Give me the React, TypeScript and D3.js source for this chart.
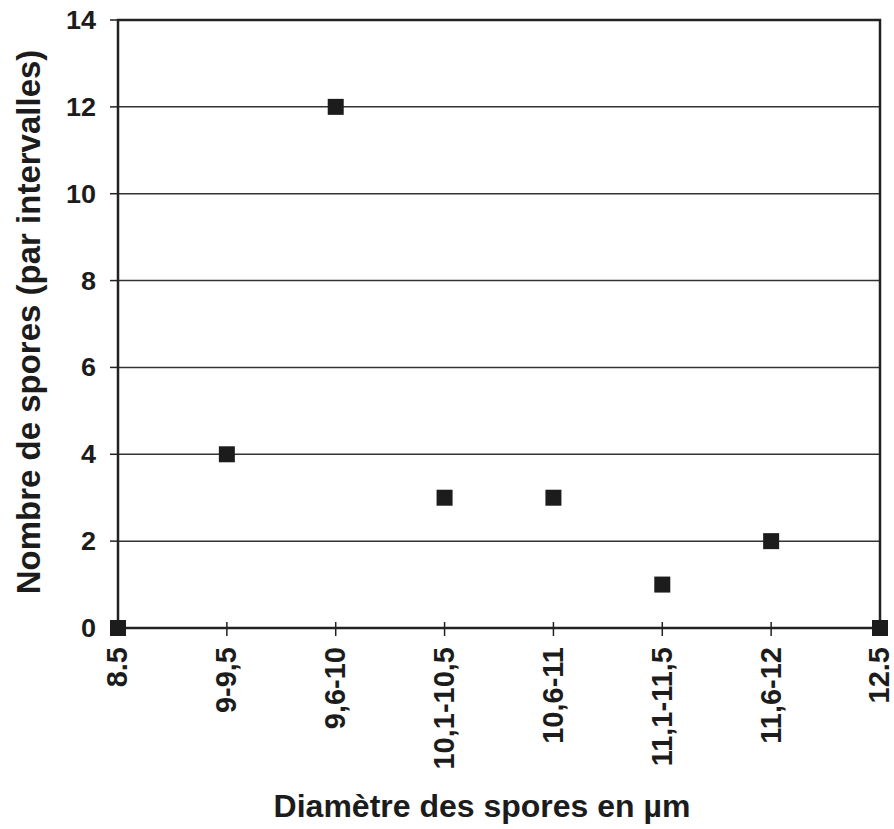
import React from "react";
import * as d3 from "d3";

const categories = ["8.5", "9-9,5", "9,6-10", "10,1-10,5", "10,6-11", "11,1-11,5", "11,6-12", "12.5"];
const counts = [0, 4, 12, 3, 3, 1, 2, 0];
const yTicks = [0, 2, 4, 6, 8, 10, 12, 14];
const xTitle = "Diamètre des spores en µm";
const yTitle = "Nombre de spores (par intervalles)";

const W = 894, H = 829;
const L = 118, R = 880, T = 20, B = 628;
const FONT = "'Liberation Sans', Arial, sans-serif";
const INK = "#1c1c1c";

export default function App() {
  const x = d3.scalePoint<string>().domain(categories).range([L, R]).padding(0);
  const y = d3.scaleLinear().domain([0, 14]).range([B, T]);
  const ms = 16;
  return (
    <svg width={W} height={H} style={{ position: "absolute", left: 0, top: 0, background: "#fff" }}>
      {yTicks.map((t) => (
        <g key={t}>
          {t > 0 && t < 14 && (
            <line x1={L} x2={R} y1={y(t)} y2={y(t)} stroke="#333" strokeWidth={1.5} />
          )}
          <line x1={L - 8} x2={L} y1={y(t)} y2={y(t)} stroke="#222" strokeWidth={1.5} />
          <text
            transform={`translate(96,${y(t)}) scale(1.08,1)`}
            dy="0.36em"
            textAnchor="end"
            fontFamily={FONT}
            fontWeight="bold"
            fontSize={25}
            fill={INK}
          >
            {t}
          </text>
        </g>
      ))}
      {categories.map((c) => (
        <g key={c}>
          <line x1={x(c)} x2={x(c)} y1={B - 6} y2={B + 8} stroke="#222" strokeWidth={1.5} />
          <text
            transform={`translate(${x(c)! - 1},${B + 19}) rotate(-90)`}
            dy="0.36em"
            textAnchor="end"
            fontFamily={FONT}
            fontWeight="bold"
            fontSize={29}
            fill={INK}
          >
            {c}
          </text>
        </g>
      ))}
      <rect x={L} y={T} width={R - L} height={B - T} fill="none" stroke="#222" strokeWidth={2.5} />
      {categories.map((c, i) => (
        <rect key={c} x={x(c)! - ms / 2} y={y(counts[i]) - ms / 2} width={ms} height={ms} fill={INK} />
      ))}
      <text x={482} y={817} textAnchor="middle" fontFamily={FONT} fontWeight="bold" fontSize={32} fill={INK}>
        {xTitle}
      </text>
      <text transform={`translate(40,322) rotate(-90)`} textAnchor="middle" fontFamily={FONT} fontWeight="bold" fontSize={33} fill={INK}>
        {yTitle}
      </text>
    </svg>
  );
}
